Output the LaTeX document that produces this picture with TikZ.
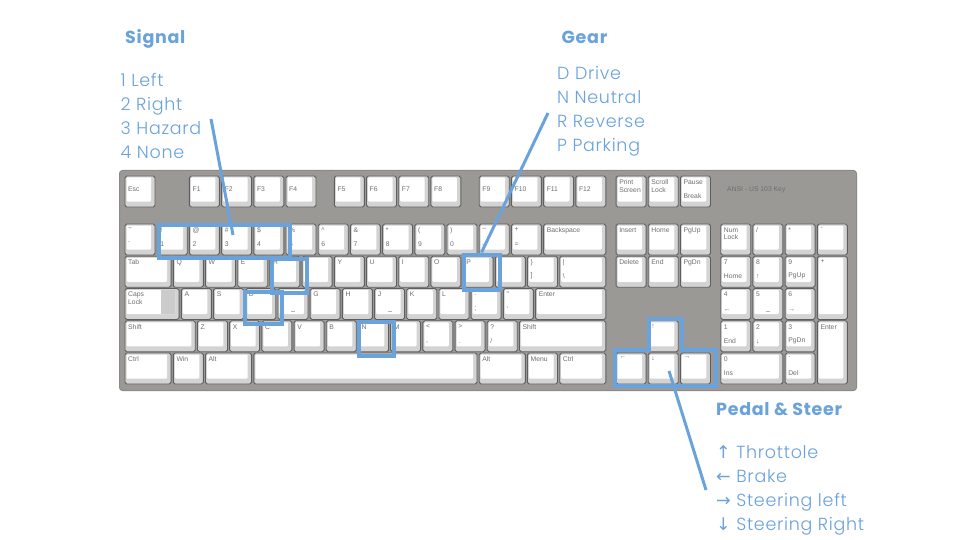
\documentclass[tikz,border=0pt]{standalone}
\usepackage{fontspec}
\setmainfont{Poppins}
\newfontfamily\kfont{Liberation Sans}
\newfontfamily\arw{DejaVu Sans}
\newfontfamily\hdfont[LetterSpace=4]{Poppins}
\newfontfamily\lbl[LetterSpace=4]{Poppins Light}
\definecolor{hl}{HTML}{6AA2DC}
\definecolor{boardgray}{HTML}{9B9996}
\definecolor{boardedge}{HTML}{8C8A88}
\definecolor{keygray}{HTML}{D3D3D3}
\definecolor{keyedge}{HTML}{5E5E5E}
\definecolor{labgray}{HTML}{6E6E6E}
\definecolor{capsgray}{HTML}{CBCBCB}
\definecolor{bumpgray}{HTML}{B4B4B4}
\tikzset{
  board/.style={draw=boardedge, fill=boardgray, rounded corners=3pt, line width=1pt, inner sep=0pt},
  keyb/.style={draw=keyedge, fill=keygray, rounded corners=1.8pt, line width=0.9pt, inner sep=0pt, outer sep=0pt},
  keyface/.style={fill=white, rounded corners=1pt},
  klab/.style={font=\kfont\fontsize{6.8}{7.6}\selectfont, text=labgray, inner sep=0pt, align=left},
  hlbox/.style={draw=hl, line width=4pt, inner sep=0pt},
  conn/.style={draw=hl, line width=3pt},
  head/.style={font=\hdfont\bfseries\fontsize{17.5}{20}\selectfont, text=hl, inner sep=0pt, anchor=base west},
  item/.style={font=\lbl\fontsize{17.5}{20}\selectfont, text=hl, inner sep=0pt, anchor=base west},
  bump/.style={draw=bumpgray, line width=0.5pt},
}
% \mykey[h]{name}{u}{y}{w}{top}{bottom}
\newcommand\mykey[7][1]{%
  \node[keyb, anchor=north west, minimum width={#5*32.2pt-2.2pt}, minimum height={#1*32.25pt-1.25pt}] (#2) at ({125+#3*32.2},#4) {};
  \fill[keyface] ([shift={(1.5pt,-1.5pt)}]#2.north west) rectangle ([shift={(-4pt,5.5pt)}]#2.south east);
  \node[klab, anchor=north west] (#2t) at ([shift={(3pt,-3.5pt)}]#2.north west) {#6};
  \node[klab, anchor=south west] (#2b) at ([shift={(3pt,8pt)}]#2.south west) {#7};
}
% \myfkey{name}{u}{label}
\newcommand\myfkey[3]{%
  \node[keyb, anchor=north west, minimum width={32.2pt-2.2pt}, minimum height={31pt}] (#1) at ({125+#2*32.2},176) {};
  \fill[keyface] ([shift={(1.5pt,-1.5pt)}]#1.north west) rectangle ([shift={(-4pt,5.5pt)}]#1.south east);
  \node[klab, anchor=west] (#1t) at ([shift={(3pt,2pt)}]#1.west) {#3};
}
\begin{document}
\begin{tikzpicture}[x=1pt,y=-1pt]
\useasboundingbox (0,0) rectangle (960,540);
\fill[white] (0,0) rectangle (960,540);

% board
\node[board, anchor=north west, minimum width=737pt, minimum height=220pt] (kbd) at (119,170) {};
\node[klab, anchor=west] (ansi) at (727,190) {ANSI - US 103 Key};

% function row
\myfkey{kEsc}{0}{Esc}
\myfkey{kF1}{2}{F1}
\myfkey{kF2}{3}{F2}
\myfkey{kF3}{4}{F3}
\myfkey{kF4}{5}{F4}
\myfkey{kF5}{6.5}{F5}
\myfkey{kF6}{7.5}{F6}
\myfkey{kF7}{8.5}{F7}
\myfkey{kF8}{9.5}{F8}
\myfkey{kF9}{11}{F9}
\myfkey{kF10}{12}{F10}
\myfkey{kF11}{13}{F11}
\myfkey{kF12}{14}{F12}
\mykey{kPrt}{15.25}{176}{1}{Print\\Screen}{}
\mykey{kScr}{16.25}{176}{1}{Scroll\\Lock}{}
\mykey{kPau}{17.25}{176}{1}{Pause}{Break}

% number row
\mykey{kTil}{0}{224}{1}{\textasciitilde}{\textasciigrave}
\mykey{kOne}{1}{224}{1}{!}{1}
\mykey{kTwo}{2}{224}{1}{@}{2}
\mykey{kThr}{3}{224}{1}{\#}{3}
\mykey{kFou}{4}{224}{1}{\$}{4}
\mykey{kFiv}{5}{224}{1}{\%}{5}
\mykey{kSix}{6}{224}{1}{\textasciicircum}{6}
\mykey{kSev}{7}{224}{1}{\&}{7}
\mykey{kEig}{8}{224}{1}{*}{8}
\mykey{kNin}{9}{224}{1}{(}{9}
\mykey{kZer}{10}{224}{1}{)}{0}
\mykey{kMin}{11}{224}{1}{\_}{-}
\mykey{kEqu}{12}{224}{1}{+}{=}
\mykey{kBsp}{13}{224}{2}{Backspace}{}
\mykey{kIns}{15.25}{224}{1}{Insert}{}
\mykey{kHom}{16.25}{224}{1}{Home}{}
\mykey{kPgU}{17.25}{224}{1}{PgUp}{}
\mykey{kNum}{18.5}{224}{1}{Num\\Lock}{}
\mykey{kDiv}{19.5}{224}{1}{/}{}
\mykey{kMul}{20.5}{224}{1}{*}{}
\mykey{kSub}{21.5}{224}{1}{-}{}

% qwerty row
\mykey{kTab}{0}{256.25}{1.5}{Tab}{}
\mykey{kQ}{1.5}{256.25}{1}{Q}{}
\mykey{kW}{2.5}{256.25}{1}{W}{}
\mykey{kE}{3.5}{256.25}{1}{E}{}
\mykey{kR}{4.5}{256.25}{1}{R}{}
\mykey{kT}{5.5}{256.25}{1}{T}{}
\mykey{kY}{6.5}{256.25}{1}{Y}{}
\mykey{kU}{7.5}{256.25}{1}{U}{}
\mykey{kI}{8.5}{256.25}{1}{I}{}
\mykey{kO}{9.5}{256.25}{1}{O}{}
\mykey{kP}{10.5}{256.25}{1}{P}{}
\mykey{kLbr}{11.5}{256.25}{1}{\{}{[}
\mykey{kRbr}{12.5}{256.25}{1}{\}}{]}
\mykey{kBsl}{13.5}{256.25}{1.5}{|}{\textbackslash}
\mykey{kDel}{15.25}{256.25}{1}{Delete}{}
\mykey{kEnd}{16.25}{256.25}{1}{End}{}
\mykey{kPgD}{17.25}{256.25}{1}{PgDn}{}
\mykey{kN7}{18.5}{256.25}{1}{7}{Home}
\mykey{kN8}{19.5}{256.25}{1}{8}{↑}
\mykey{kN9}{20.5}{256.25}{1}{9}{PgUp}
\mykey[2]{kAdd}{21.5}{256.25}{1}{+}{}

% home row
\mykey{kCap}{0}{288.5}{1.75}{Caps\\Lock}{}
\fill[capsgray] ([shift={(36pt,-1.5pt)}]kCap.north west) rectangle ([shift={(-4pt,5.5pt)}]kCap.south east);
\mykey{kA}{1.75}{288.5}{1}{A}{}
\mykey{kS}{2.75}{288.5}{1}{S}{}
\mykey{kD}{3.75}{288.5}{1}{D}{}
\mykey{kF}{4.75}{288.5}{1}{F}{}
\mykey{kG}{5.75}{288.5}{1}{G}{}
\mykey{kH}{6.75}{288.5}{1}{H}{}
\mykey{kJ}{7.75}{288.5}{1}{J}{}
\mykey{kK}{8.75}{288.5}{1}{K}{}
\mykey{kL}{9.75}{288.5}{1}{L}{}
\mykey{kSem}{10.75}{288.5}{1}{:}{;}
\mykey{kQuo}{11.75}{288.5}{1}{\textquotedbl}{\textquotesingle}
\mykey{kEnt}{12.75}{288.5}{2.25}{Enter}{}
\mykey{kN4}{18.5}{288.5}{1}{4}{←}
\mykey{kN5}{19.5}{288.5}{1}{5}{}
\mykey{kN6}{20.5}{288.5}{1}{6}{→}
\draw[bump] ([shift={(-2pt,8pt)}]kF.south) -- ++(4,0);
\draw[bump] ([shift={(-2pt,8pt)}]kJ.south) -- ++(4,0);
\draw[bump] ([shift={(-2pt,8pt)}]kN5.south) -- ++(4,0);

% shift row
\mykey{kLSh}{0}{320.75}{2.25}{Shift}{}
\mykey{kZ}{2.25}{320.75}{1}{Z}{}
\mykey{kX}{3.25}{320.75}{1}{X}{}
\mykey{kC}{4.25}{320.75}{1}{C}{}
\mykey{kV}{5.25}{320.75}{1}{V}{}
\mykey{kB}{6.25}{320.75}{1}{B}{}
\mykey{kN}{7.25}{320.75}{1}{N}{}
\mykey{kM}{8.25}{320.75}{1}{M}{}
\mykey{kCom}{9.25}{320.75}{1}{<}{,}
\mykey{kDot}{10.25}{320.75}{1}{>}{.}
\mykey{kSla}{11.25}{320.75}{1}{?}{/}
\mykey{kRSh}{12.25}{320.75}{2.75}{Shift}{}
\mykey{kUp}{16.25}{320.75}{1}{↑}{}
\mykey{kN1}{18.5}{320.75}{1}{1}{End}
\mykey{kN2}{19.5}{320.75}{1}{2}{↓}
\mykey{kN3}{20.5}{320.75}{1}{3}{PgDn}
\mykey[2]{kNEn}{21.5}{320.75}{1}{Enter}{}

% bottom row
\mykey{kLCt}{0}{353}{1.5}{Ctrl}{}
\mykey{kWin}{1.5}{353}{1}{Win}{}
\mykey{kLAl}{2.5}{353}{1.5}{Alt}{}
\mykey{kSpc}{4}{353}{7}{}{}
\mykey{kRAl}{11}{353}{1.5}{Alt}{}
\mykey{kMnu}{12.5}{353}{1}{Menu}{}
\mykey{kRCt}{13.5}{353}{1.5}{Ctrl}{}
\mykey{kLft}{15.25}{353}{1}{←}{}
\mykey{kDn}{16.25}{353}{1}{↓}{}
\mykey{kRgt}{17.25}{353}{1}{→}{}
\mykey{kN0}{18.5}{353}{2}{0}{Ins}
\mykey{kNDt}{20.5}{353}{1}{.}{Del}

% highlight boxes
\node[hlbox, anchor=north west, minimum width=131pt, minimum height=33pt] (sigbox) at (156.5,222.5) {};
\node[hlbox, anchor=north west, minimum width=35pt, minimum height=34pt] (rbox) at (269.5,256.5) {};
\node[hlbox, anchor=north west, minimum width=37pt, minimum height=32pt] (dbox) at (242.5,289.5) {};
\node[hlbox, anchor=north west, minimum width=35pt, minimum height=34pt] (nbox) at (356.5,319.5) {};
\node[hlbox, anchor=north west, minimum width=36pt, minimum height=35pt] (pbox) at (461.5,252.5) {};
\draw[hlbox, line join=miter] (614.5,349.5) -- (648.5,349.5) -- (648.5,318.5) -- (681.5,318.5) -- (681.5,349.5) -- (715.5,349.5) -- (715.5,385.5) -- (614.5,385.5) -- cycle;

% connectors
\coordinate (sigA) at (211,119);
\coordinate (sigB) at (233,235);
\draw[conn] (sigA) -- (sigB);
\coordinate (gearA) at (548,113);
\draw[conn] (gearA) -- (pbox.north);
\coordinate (pedA) at (669,371);
\coordinate (pedB) at (706,490);
\draw[conn] (pedA) -- (pedB);

% texts
\node[head] (sigH) at (125,44) {Signal};
\node[item] (sig1) at (120.5,87) {1 Left};
\node[item] (sig2) at (120.5,111) {2 Right};
\node[item] (sig3) at (120.5,135) {3 Hazard};
\node[item] (sig4) at (120.5,159) {4 None};

\node[head] (gearH) at (561.5,44) {Gear};
\node[item] (gear1) at (557,80) {D Drive};
\node[item] (gear2) at (557,104) {N Neutral};
\node[item] (gear3) at (557,128) {R Reverse};
\node[item] (gear4) at (557,152) {P Parking};

\node[head] (pedH) at (716,415) {Pedal \& Steer};
\node[item] (ped1) at (716,458) {{\arw ↑} Throttole};
\node[item] (ped2) at (716,482.5) {{\arw ←} Brake};
\node[item] (ped3) at (716,506.5) {{\arw →} Steering left};
\node[item] (ped4) at (716,530) {{\arw ↓} Steering Right};
\end{tikzpicture}
\end{document}
